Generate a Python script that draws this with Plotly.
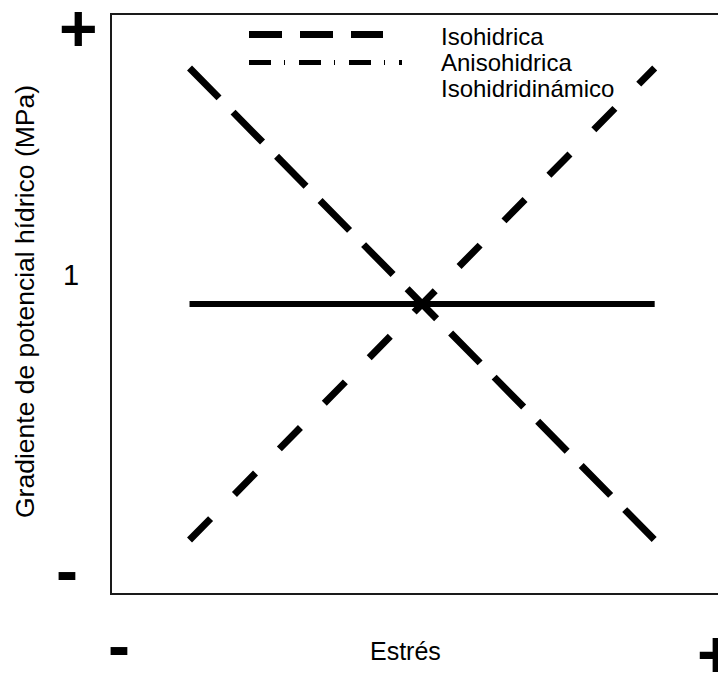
import plotly.graph_objects as go

# ---- data ----
stress = [1, 7]
isohidrica = [9, 1]
anisohidrica = [1, 9]
isohidridinamico = [5, 5]
series_names = ["Isohidrica", "Anisohidrica", "Isohidridinámico"]
y_tick_text = ["+", "1", "-"]
x_tick_text = ["-", "+"]
x_title = "Estrés"
y_title = "Gradiente de potencial hídrico (MPa)"

FONT = "Liberation Sans, Arial, sans-serif"
OFF = 8  # page body margin
W, H = 726 - OFF, 681 - OFF
L, T, B = 112 - OFF, 15 - OFF, 88
PW, PH = W - L, H - T - B


def px(x):
    return (x - OFF - L) / PW


def py(y):
    return (H - B - (y - OFF)) / PH


fig = go.Figure()
fig.add_trace(go.Scatter(x=stress, y=isohidrica, mode="lines", name=series_names[0],
                         line=dict(color="black", width=7, dash="42px,20px")))
fig.add_trace(go.Scatter(x=stress, y=anisohidrica, mode="lines", name=series_names[1],
                         line=dict(color="black", width=7, dash="30px,34px")))
fig.add_trace(go.Scatter(x=stress, y=isohidridinamico, mode="lines", name=series_names[2],
                         line=dict(color="black", width=6)))

# manual legend (long samples as in reference)
shapes = [
    dict(type="line", xref="paper", yref="paper", x0=px(249), x1=px(383), y0=py(34.5), y1=py(34.5),
         line=dict(color="black", width=7, dash="33px,18px")),
    dict(type="line", xref="paper", yref="paper", x0=px(249), x1=px(402), y0=py(62.5), y1=py(62.5),
         line=dict(color="black", width=5, dash="22px,13px,1px,14px")),
]
annotations = []
for name, yy in zip(series_names, [36, 62, 89]):
    annotations.append(dict(text=name, xref="paper", yref="paper", x=px(439), y=py(yy),
                            xanchor="left", yanchor="middle", showarrow=False,
                            font=dict(family=FONT, size=24, color="black")))

# custom tick labels
for txt, (xx, yy, sz, bold) in zip(y_tick_text, [(78, 28, 66, True), (71, 275, 29, False), (66.5, 570, 66, True)]):
    annotations.append(dict(text=f"<b>{txt}</b>" if bold else txt, xref="paper", yref="paper",
                            x=px(xx), y=py(yy), xanchor="center", yanchor="middle", showarrow=False,
                            font=dict(family=FONT, size=sz, color="black")))
for txt, (xx, yy) in zip(x_tick_text, [(118.5, 645), (716.5, 654)]):
    annotations.append(dict(text=f"<b>{txt}</b>", xref="paper", yref="paper",
                            x=px(xx), y=py(yy), xanchor="center", yanchor="middle", showarrow=False,
                            font=dict(family=FONT, size=66, color="black")))

annotations.append(dict(text=x_title, xref="paper", yref="paper", x=px(405), y=py(651),
                        xanchor="center", yanchor="middle", showarrow=False,
                        font=dict(family=FONT, size=25, color="black")))
annotations.append(dict(text=y_title, xref="paper", yref="paper", x=px(25), y=py(302),
                        xanchor="center", yanchor="middle", showarrow=False, textangle=-90,
                        font=dict(family=FONT, size=26.5, color="black")))

fig.update_layout(
    width=W, height=H,
    margin=dict(l=L, r=0, t=T, b=B),
    plot_bgcolor="white", paper_bgcolor="white",
    showlegend=False,
    shapes=shapes, annotations=annotations,
    xaxis=dict(range=[0, 7.92], showgrid=False, zeroline=False, showticklabels=False, ticks="",
               showline=True, linecolor="#1a1a1a", linewidth=2, mirror=True),
    yaxis=dict(range=[0.102, 9.898], showgrid=False, zeroline=False, showticklabels=False, ticks="",
               showline=True, linecolor="#1a1a1a", linewidth=2, mirror=False),
)

fig.write_html("out.html")
